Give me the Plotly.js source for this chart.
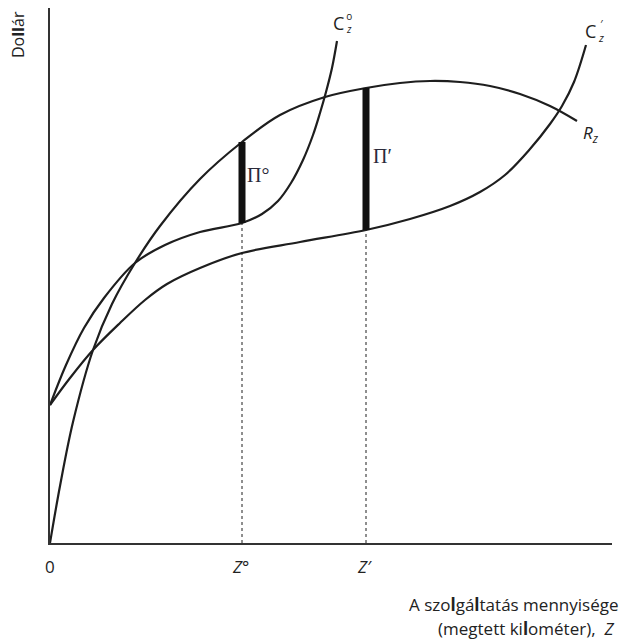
<!DOCTYPE html>
<html>
<head>
<meta charset="utf-8">
<script src="https://cdn.plot.ly/plotly-3.0.1.min.js"></script>
<style>html,body{margin:0;padding:0;background:#fff;}#chart{width:627px;height:641px;}</style>
</head>
<body>
<div id="chart"></div>
<script>
// Revenue curve R_z
const rX = [0, 10, 23, 43, 62, 85, 110, 150, 192, 230, 275, 316, 350, 380, 410, 440, 470, 500, 527];
const rY = [0, 57, 121, 193, 239, 280, 317, 364, 401, 428, 446, 455, 460, 462, 461, 457, 449, 437, 422];
// Cost curve C_z°
const c0X = [0, 16, 34, 54, 85, 115, 150, 192, 212, 228, 241, 253, 263, 270, 276, 282, 287];
const c0Y = [138, 178, 215, 245, 280, 298, 311, 320, 329, 342, 360, 383, 408, 430, 451, 475, 502];
// Cost curve C_z'
const c1X = [0, 20, 43, 70, 95, 117, 150, 192, 250, 316, 360, 400, 430, 455, 480, 500, 512, 524, 536];
const c1Y = [138, 165, 193, 220, 243, 259, 275, 290, 301, 313, 324, 337, 351, 368, 394, 419, 437, 461, 498];
// Profit bars at Z° and Z'
const zLabels = ['Z°', "Z′"];
const zX = [192, 316];
const profitTop = [401, 455];
const profitBottom = [320, 313];
const profitLabels = ['Π°', 'Π′'];

const ink = '#1e1e1e';
const traces = [
  {x: rX, y: rY, mode: 'lines', line: {color: ink, width: 2.2, shape: 'spline', smoothing: 1}},
  {x: c0X, y: c0Y, mode: 'lines', line: {color: ink, width: 2.2, shape: 'spline', smoothing: 1}},
  {x: c1X, y: c1Y, mode: 'lines', line: {color: ink, width: 2.2, shape: 'spline', smoothing: 1}}
];
for (let i = 0; i < zX.length; i++) {
  traces.push({x: [zX[i], zX[i]], y: [0, profitBottom[i]], mode: 'lines',
    line: {color: ink, width: 1, dash: 'dot'}});
  traces.push({x: [zX[i], zX[i]], y: [profitBottom[i], profitTop[i]], mode: 'lines',
    line: {color: '#111', width: 7}});
}

const sans = 'Open Sans, DejaVu Sans, sans-serif';
const serif = 'Liberation Serif, DejaVu Serif, serif';
const ann = [];
function T(text, x, y, size, opts) {
  const o = Object.assign({text: text, x: x, y: y, xref: 'x', yref: 'y', showarrow: false,
    font: {family: sans, size: size, color: '#222'}, xanchor: 'center', yanchor: 'middle'}, opts || {});
  if (o.style) { o.font.style = o.style; delete o.style; }
  if (o.family) { o.font.family = o.family; delete o.family; }
  if (o.color) { o.font.color = o.color; delete o.color; }
  ann.push(o);
}
const PY = v => v / 535;
// curve labels
T('C', 288, 520, 18);
T('o<br><i>z</i>', 298.5, 521, 10);
T('C', 540, 512, 18);
T('′<br><i>z</i>', 550.5, 513, 11);
T('<i>R<sub>z</sub></i>', 541, 410, 17);
// profit labels
T(profitLabels[0], zX[0] + 16, 368, 20, {family: serif, color: '#2a2a3a'});
T(profitLabels[1], zX[1] + 16, 387, 20, {family: serif, color: '#2a2a3a'});
// axis tick labels
T('0', 0, PY(-23), 17, {yref: 'paper'});
T(zLabels[0], zX[0] - 2, PY(-23), 17, {yref: 'paper', style: 'italic'});
T(zLabels[1], zX[1] - 2, PY(-23), 17, {yref: 'paper', style: 'italic'});
// axis titles
T('A szo<b>l</b>gá<b>l</b>tatás mennyisége', 570 / 562, PY(-61), 17, {xref: 'paper', yref: 'paper', xanchor: 'right'});
T('(megtett ki<b>l</b>ométer),  <i>Z</i>', 566 / 562, PY(-85), 17, {xref: 'paper', yref: 'paper', xanchor: 'right'});
T('Do<b>ll</b>ár', -32 / 562, 1 - 27 / 535, 16, {xref: 'paper', yref: 'paper', textangle: -90});

const layout = {
  width: 627, height: 641,
  margin: {l: 50, r: 15, t: 8, b: 98},
  paper_bgcolor: '#fff', plot_bgcolor: '#fff',
  showlegend: false,
  xaxis: {range: [0, 562], showline: true, linecolor: '#333', linewidth: 2, showgrid: false,
    zeroline: false, showticklabels: false, ticks: ''},
  yaxis: {range: [0, 535], showline: true, linecolor: '#333', linewidth: 2, showgrid: false,
    zeroline: false, showticklabels: false, ticks: ''},
  annotations: ann
};
traces.forEach(t => { t.hoverinfo = 'skip'; t.cliponaxis = false; });
Plotly.newPlot('chart', traces, layout, {staticPlot: true});
</script>
</body>
</html>
